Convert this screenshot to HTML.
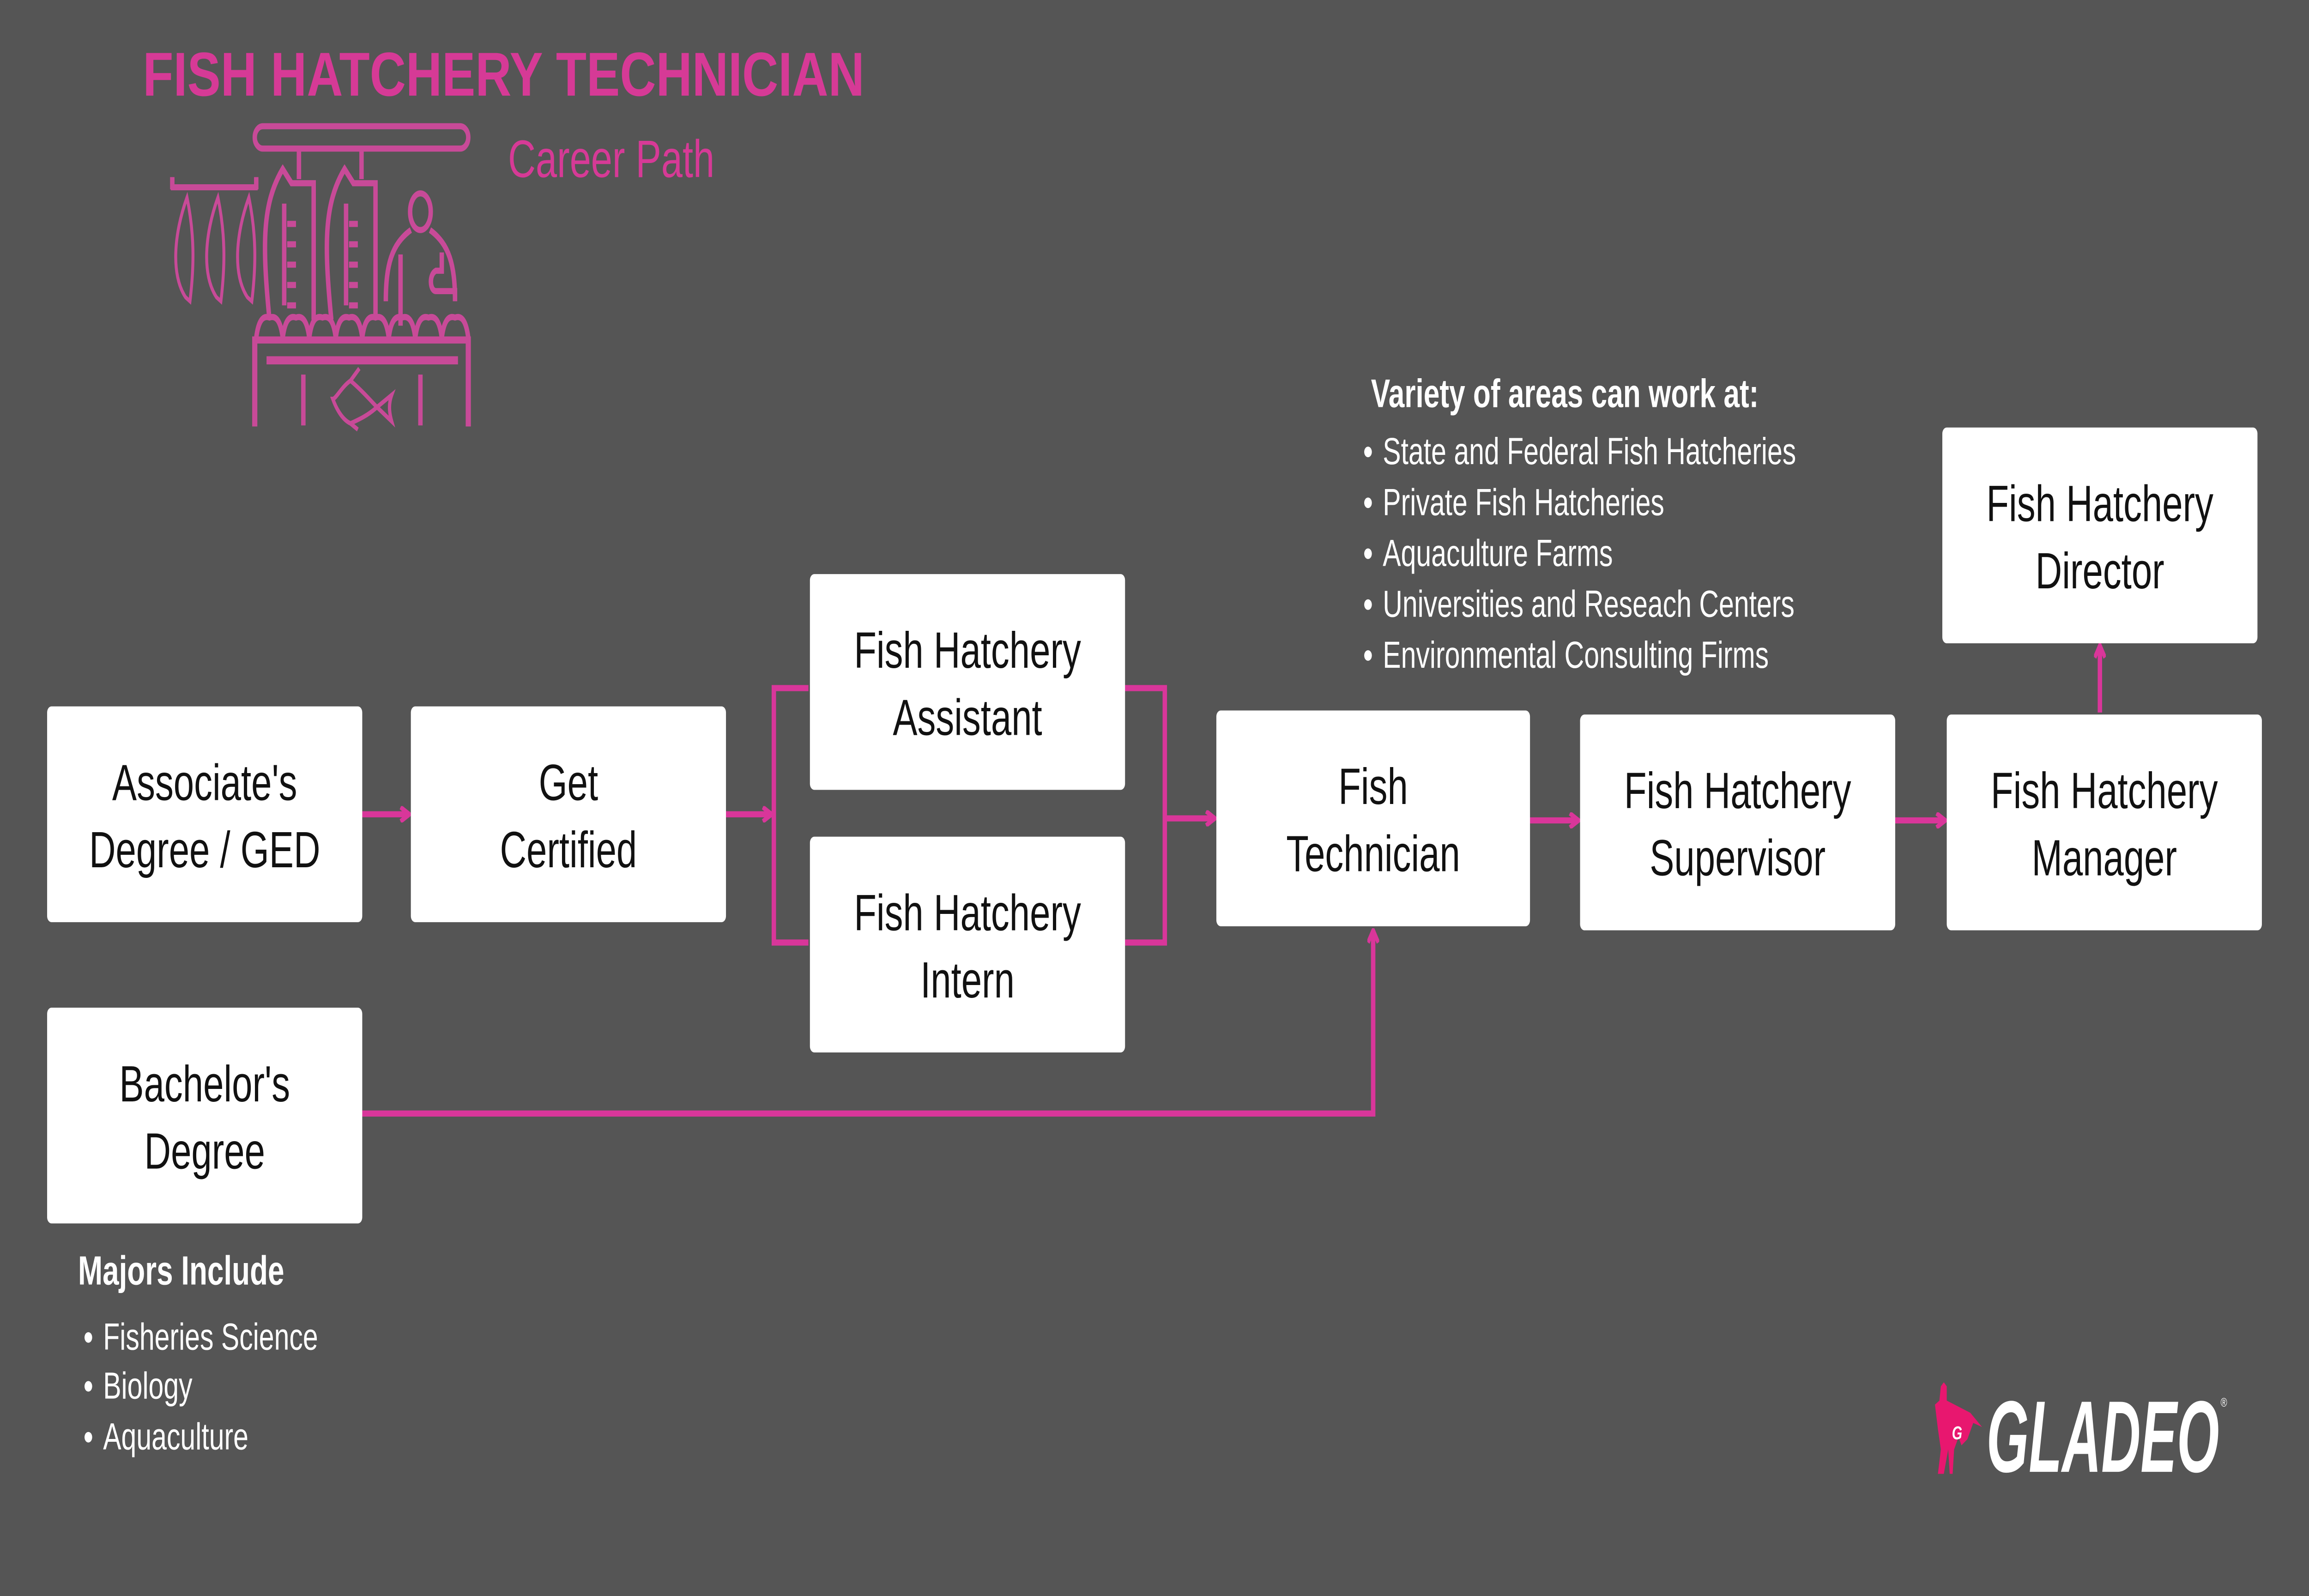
<!DOCTYPE html>
<html><head><meta charset="utf-8"><style>
html,body{margin:0;padding:0;background:#555555;width:100%;height:100%;overflow:hidden;}
svg{display:block;width:100%;height:100%;}
text{font-family:"Liberation Sans","DejaVu Sans",sans-serif;}
</style></head><body>
<svg width="100%" height="100%" viewBox="0 0 1568 784" preserveAspectRatio="none" xmlns="http://www.w3.org/2000/svg">
<defs>
<marker id="ar" markerWidth="8" markerHeight="8" refX="7" refY="4" orient="auto" markerUnits="userSpaceOnUse">
<path d="M1,0.5 L7,4 L1,7.5" fill="none" stroke="#d9369a" stroke-width="2.4"/>
</marker>
</defs>
<rect width="1568" height="784" fill="#555555"/>

<text x="97" y="47" font-size="30.5" font-weight="bold" fill="#d63a96" textLength="490" lengthAdjust="spacingAndGlyphs">FISH HATCHERY TECHNICIAN</text>
<text x="345" y="87" font-size="26" fill="#d63a96">Career Path</text>

<g fill="none" stroke="#c84a98" stroke-width="3">
<rect x="173" y="62" width="145" height="11" rx="5.5"/>
<line x1="203" y1="74" x2="203" y2="88"/>
<line x1="245.5" y1="74" x2="245.5" y2="88"/>
<path d="M183,157 C178,120 178,100 192,83 L198,90 L213,90 L213,157"/>
<path d="M225,157 C220,120 220,100 234,83 L240,90 L255,90 L255,157"/>
<path d="M193,100 v50 M201,110 h-6 M201,120 h-6 M201,130 h-6 M201,140 h-6 M201,150 h-6"/>
<path d="M235,100 v50 M243,110 h-6 M243,120 h-6 M243,130 h-6 M243,140 h-6 M243,150 h-6"/>
<line x1="116" y1="92" x2="175" y2="92"/>
<line x1="117" y1="87" x2="117" y2="93"/><line x1="174" y1="87" x2="174" y2="93"/>
<path d="M127,97 C118,115 116,135 126,146 L129,148 C132,130 132,115 127,97 Z" stroke-width="2"/>
<path d="M148,97 C139,115 137,135 147,146 L150,148 C153,130 153,115 148,97 Z" stroke-width="2"/>
<path d="M169,97 C160,115 158,135 168,146 L171,148 C174,130 174,115 169,97 Z" stroke-width="2"/>
<ellipse cx="285.5" cy="104" rx="7" ry="9"/>
<path d="M279,113 C266,120 262,130 262,148 M292,113 C305,120 309,130 309,148 L309,143 L296,143 C292,143 291,135 296,133 L300,133 L300,124"/>
<line x1="272" y1="125" x2="272" y2="160"/>
<path d="M174,166 Q176,154 183,156 Q190,154 192,166 Q194,154 201,156 Q208,154 210,166 Q212,154 219,156 Q226,154 228,166 Q230,154 237,156 Q244,154 246,166 Q248,154 255,156 Q262,154 264,166 Q266,154 273,156 Q280,154 282,166 Q284,154 291,156 Q298,154 300,166 Q302,154 309,156 Q316,154 318,166"/>
<path d="M173,209.5 V167 H318 V209.5" stroke-width="3.5"/>
<rect x="181" y="175" width="130" height="4" fill="#c84a98" stroke="none"/>
<line x1="206" y1="184" x2="206" y2="209"/>
<line x1="285.5" y1="184" x2="285.5" y2="209"/>
<path d="M244,181 L238,187 C232,190 228,196 226,196 C228,200 232,206 238,208 L243,211 M238,187 C246,192 252,197 256,200 L266,194 C264,198 264,202 266,207 L256,200 C250,204 244,206 238,208" stroke-width="2.2"/>
</g>

<g fill="none" stroke="#d9369a" stroke-width="3">
<line x1="246" y1="400" x2="278" y2="400" marker-end="url(#ar)"/>
<line x1="493" y1="400" x2="524" y2="400" marker-end="url(#ar)"/>
<path d="M549,338 H525.5 V463 H549"/>
<path d="M764,338 H791 V463 H764"/>
<line x1="791" y1="402" x2="825" y2="402" marker-end="url(#ar)"/>
<line x1="1039" y1="403" x2="1072" y2="403" marker-end="url(#ar)"/>
<line x1="1287" y1="403" x2="1321" y2="403" marker-end="url(#ar)"/>
<line x1="1426" y1="350" x2="1426" y2="317" marker-end="url(#ar)"/>
<path d="M246,547 H932.5 V457" marker-end="url(#ar)"/>
</g>

<g fill="#ffffff">
<rect x="32" y="347" width="214" height="106" rx="3"/>
<rect x="279" y="347" width="214" height="106" rx="3"/>
<rect x="550" y="282" width="214" height="106" rx="3"/>
<rect x="550" y="411" width="214" height="106" rx="3"/>
<rect x="826" y="349" width="213" height="106" rx="3"/>
<rect x="1073" y="351" width="214" height="106" rx="3"/>
<rect x="1322" y="351" width="214" height="106" rx="3"/>
<rect x="1319" y="210" width="214" height="106" rx="3"/>
<rect x="32" y="495" width="214" height="106" rx="3"/>
</g>
<g font-size="25" fill="#111" text-anchor="middle">
<text x="139" y="393">Associate's</text><text x="139" y="426">Degree / GED</text>
<text x="386" y="393">Get</text><text x="386" y="426">Certified</text>
<text x="657" y="328">Fish Hatchery</text><text x="657" y="361">Assistant</text>
<text x="657" y="457">Fish Hatchery</text><text x="657" y="490">Intern</text>
<text x="932.5" y="395">Fish</text><text x="932.5" y="428">Technician</text>
<text x="1180" y="397">Fish  Hatchery</text><text x="1180" y="430">Supervisor</text>
<text x="1429" y="397">Fish  Hatchery</text><text x="1429" y="430">Manager</text>
<text x="1426" y="256">Fish  Hatchery</text><text x="1426" y="289">Director</text>
<text x="139" y="541">Bachelor's</text><text x="139" y="574">Degree</text>
</g>

<g fill="#ffffff">
<text x="931" y="200" font-size="19.5" font-weight="bold">Variety of areas can work at:</text>
<g font-size="18.5">
<text x="939" y="228">State and Federal Fish Hatcheries</text>
<text x="939" y="253">Private Fish Hatcheries</text>
<text x="939" y="278">Aquaculture Farms</text>
<text x="939" y="303">Universities and Reseach Centers</text>
<text x="939" y="328">Environmental Consulting Firms</text>
</g>
<circle cx="929" cy="222" r="2.6"/><circle cx="929" cy="247" r="2.6"/><circle cx="929" cy="272" r="2.6"/><circle cx="929" cy="297" r="2.6"/><circle cx="929" cy="322" r="2.6"/>
<text x="53" y="631" font-size="20" font-weight="bold">Majors Include</text>
<g font-size="18.5">
<text x="70" y="663">Fisheries Science</text>
<text x="70" y="687">Biology</text>
<text x="70" y="712">Aquaculture</text>
</g>
<circle cx="60" cy="657" r="2.6"/><circle cx="60" cy="681" r="2.6"/><circle cx="60" cy="706" r="2.6"/>
</g>

<g>
<path d="M1316,724 L1318,712 L1316,702 L1314,690 L1317,688 L1318,681 L1320,679 L1322,681 L1322,688 L1330,691 L1338,694 L1346,701 L1340,699 L1336,707 L1332,710 L1330,706 L1327,712 L1326,724 L1324,724 L1323,712 L1320,724 Z" fill="#e8176f"/>
<text x="1329" y="707" font-size="9" font-weight="bold" font-style="italic" fill="#fff" text-anchor="middle">G</text>
<text x="1349" y="723" font-size="50" font-weight="bold" font-style="italic" fill="#ffffff" textLength="158" lengthAdjust="spacingAndGlyphs">GLADEO</text>
<text x="1508" y="691" font-size="6" fill="#fff">®</text>
</g>
</svg>
</body></html>
